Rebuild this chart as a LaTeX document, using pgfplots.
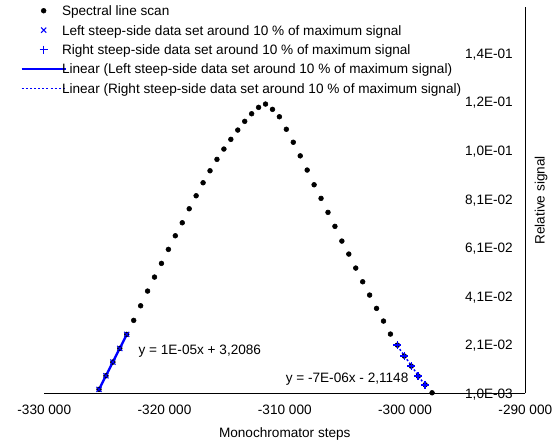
\documentclass[border=0pt]{standalone}
\usepackage{fontspec}
\setmainfont{Liberation Sans}
\usepackage{pgfplots}
\pgfplotsset{compat=1.18}
\definecolor{xlblue}{RGB}{0,0,255}

% legend samples: drawn as overlay, with a fixed box so that the text sits close
\pgfplotsset{
  marklegend/.style={legend image code/.code={%
    \draw[overlay,mark repeat=2,mark phase=2,##1] plot coordinates {(-16.5pt,0pt) (0pt,0pt) (16.5pt,0pt)};
    \path[draw=none,fill=none] (-16.5pt,0pt) (13.75pt,0pt);}},
  linelegend/.style={legend image code/.code={%
    \draw[overlay,##1] (-16.5pt,0pt) -- (16.5pt,0pt);
    \path[draw=none,fill=none] (-16.5pt,0pt) (13.75pt,0pt);}},
}

\begin{document}
\fontsize{10.2}{12}\selectfont
\begin{tikzpicture}
\useasboundingbox (-33.2pt,-37.3pt) rectangle (381.5pt,295pt);
\begin{axis}[
  scale only axis, width=360.75pt, height=289.5pt,
  xmin=-330000, xmax=-290000, ymin=0.001, ymax=0.16,
  scaled x ticks=false, scaled y ticks=false,
  axis x line=bottom, axis y line=right,
  axis line style={-, line width=0.75pt, black},
  xtick={-330000,-320000,-310000,-300000,-290000},
  xticklabels={-330 000,-320 000,-310 000,-300 000,-290 000},
  ytick={0.001,0.021,0.041,0.061,0.081,0.101,0.121,0.141},
  yticklabels={{1,0E-03},{2,1E-02},{4,1E-02},{6,1E-02},{8,1E-02},{1,0E-01},{1,2E-01},{1,4E-01}},
  major tick length=0pt,
  xticklabel style={anchor=base, inner sep=0pt, yshift=-15.6pt},
  yticklabel style={anchor=base east, inner sep=0pt, xshift=-9.2pt, yshift=-3.7pt},
  xlabel={Monochromator steps},
  xlabel style={at={(axis description cs:0.5,0)}, anchor=base, inner sep=0pt, yshift=-33.4pt},
  ylabel={Relative signal},
  ylabel style={at={(axis description cs:1.0327,0.5)}, anchor=center, inner sep=0pt},
  clip=false,
  legend cell align=left,
  legend style={draw=none, fill=none, at={(axis description cs:-0.047,1.01)},
    anchor=north west, inner sep=0pt, outer sep=0pt, row sep=3.65pt,
    nodes={inner sep=0pt, text height=9.1pt, text depth=1.8pt}},
]
% spectral line scan
\addplot[only marks, mark=*, mark size=1.8pt, black, marklegend] coordinates {
(-325450,0.00265) (-324873,0.00825) (-324296,0.01389) (-323719,0.01954) (-323142,0.02530)
(-322565,0.03107) (-321988,0.03708) (-321411,0.04314) (-320834,0.04890) (-320257,0.05455)
(-319680,0.06031) (-319103,0.06592) (-318526,0.07127) (-317949,0.07704) (-317372,0.08239)
(-316795,0.08775) (-316218,0.09269) (-315641,0.09738) (-315064,0.10163) (-314487,0.10562)
(-313910,0.10945) (-313333,0.11304) (-312756,0.11617) (-312179,0.11880) (-311602,0.12016)
(-311025,0.11798) (-310448,0.11493) (-309871,0.10978) (-309294,0.10443) (-308717,0.09883)
(-308140,0.09298) (-307563,0.08692) (-306986,0.08132) (-306409,0.07555) (-305832,0.06979)
(-305255,0.06373) (-304678,0.05838) (-304101,0.05261) (-303524,0.04697) (-302947,0.04149)
(-302370,0.03601) (-301793,0.03078) (-301216,0.02543) (-300639,0.02089) (-300062,0.01636)
(-299485,0.01224) (-298908,0.00813) (-298331,0.00454) (-297754,0.00125)
};
\addlegendentry{Spectral line scan}
% left steep side
\addplot[only marks, mark=x, mark size=2.7pt, color=xlblue, line width=0.8pt,
  mark options={draw=xlblue}, marklegend] coordinates {
(-325450,0.00265) (-324873,0.00825) (-324296,0.01389) (-323719,0.01954) (-323142,0.02530)
};
\addlegendentry{Left steep-side data set around 10 \% of maximum signal}
% right steep side
\addplot[only marks, mark=+, mark size=3pt, color=xlblue, line width=1.1pt,
  mark options={draw=xlblue}, marklegend] coordinates {
(-300639,0.02089) (-300062,0.01636) (-299485,0.01224) (-298908,0.00813) (-298331,0.00454)
};
\addlegendentry{Right steep-side data set around 10 \% of maximum signal}
% trendlines
\addplot[color=xlblue, line width=1.75pt, no marks, linelegend] coordinates {
(-325450,0.00261) (-323142,0.02524)
};
\addlegendentry{Linear (Left steep-side data set around 10 \% of maximum signal)}
\addplot[color=xlblue, line width=1.1pt, dash pattern=on 1.5pt off 1.6pt, no marks, linelegend] coordinates {
(-300639,0.02062) (-298331,0.00425)
};
\addlegendentry{Linear (Right steep-side data set around 10 \% of maximum signal)}
\node[anchor=base west, inner sep=0pt] at (axis cs:-322183,0.01715) {y = 1E-05x + 3,2086};
\node[anchor=base west, inner sep=0pt] at (axis cs:-309942,0.00533) {y = -7E-06x - 2,1148};
\end{axis}
\end{tikzpicture}
\end{document}
